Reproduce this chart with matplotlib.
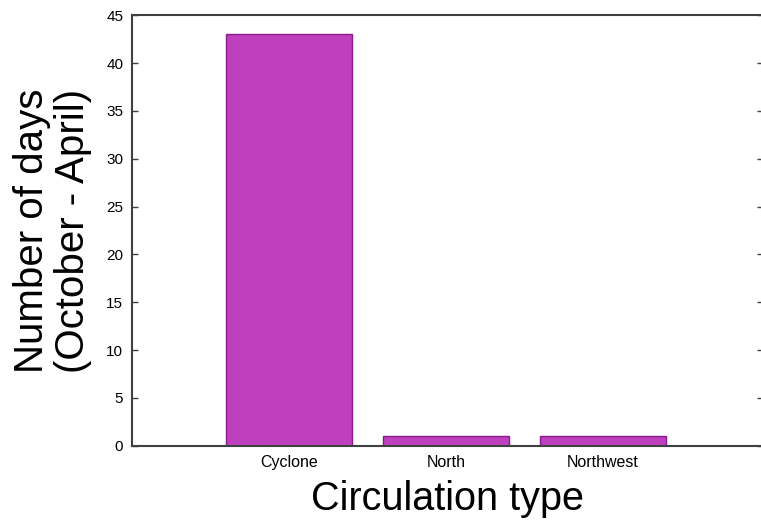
import matplotlib
matplotlib.use('Agg')

from matplotlib import pyplot as plt

# Datos
categorias = ['Cyclone', 'North', 'Northwest']
dias = [43, 1, 1]
yticks = [0, 5, 10, 15, 20, 25, 30, 35, 40, 45]

plt.rcParams['font.family'] = ['Liberation Sans', 'DejaVu Sans']

fig = plt.figure(figsize=(7.61, 5.25), dpi=100)
ax = fig.add_axes([0.173, 0.151, 0.83, 0.820])

x = list(range(len(categorias)))
ax.bar(x, dias, width=0.8, color='#bf40bf', edgecolor='#8a1a8a', linewidth=1.0, zorder=2)

ax.set_xlim(-1, 3.02)
ax.set_ylim(0, 45)
ax.set_yticks(yticks)
ax.set_xticks(x)
ax.set_xticklabels(categorias, fontsize=11.5)
ax.tick_params(axis='y', direction='in', length=4, width=1, labelsize=11,
               right=True, color='#404040', pad=6)
ax.tick_params(axis='x', direction='in', length=4, width=1, color='#202020', pad=7)

for lado in ['left', 'top', 'bottom']:
    ax.spines[lado].set_color('#404040')
    ax.spines[lado].set_linewidth(1.5)
ax.spines['right'].set_visible(False)

ax.set_xlabel('Circulation type', fontsize=28.5, labelpad=7)
ax.set_ylabel('Number of days\n(October - April)', fontsize=29, labelpad=10, linespacing=1.12)

fig.savefig('out.png', dpi=100)
